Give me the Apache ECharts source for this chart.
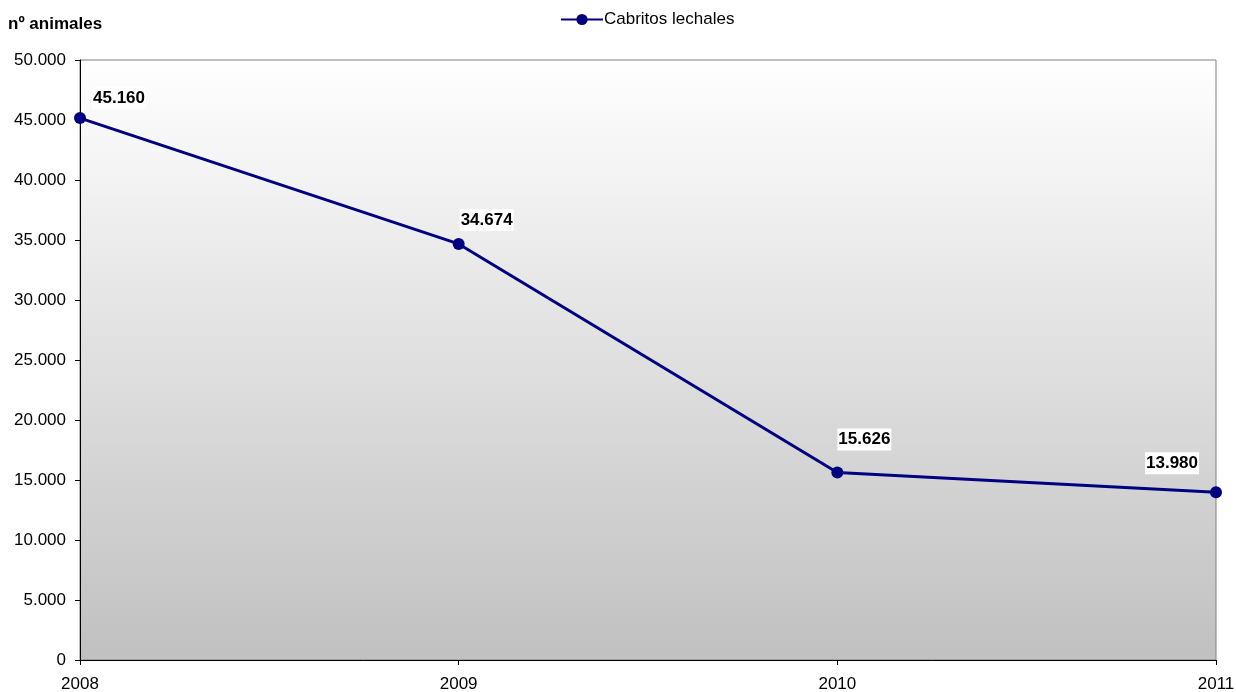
<!DOCTYPE html>
<html>
<head>
<meta charset="utf-8">
<script src="https://cdn.jsdelivr.net/npm/echarts@6/dist/echarts.min.js"></script>
<style>html,body{margin:0;padding:0;background:#fff}#c{width:1236px;height:692px}</style>
</head>
<body>
<div id="c"></div>
<script>
var categories = ['2008', '2009', '2010', '2011'];
var cabritosLechales = [45160, 34674, 15626, 13980];
var seriesName = 'Cabritos lechales';
var yAxisTitle = 'nº animales';
var yTicks = [0, 5000, 10000, 15000, 20000, 25000, 30000, 35000, 40000, 45000, 50000];

var labelOffsets = [[39, -20], [28, -24], [27, -33], [-44, -29]];

function fmt(v) {
  return String(v).replace(/\B(?=(\d{3})+(?!\d))/g, '.');
}

var chart = echarts.init(document.getElementById('c'));
var font = 'Liberation Sans, Arial, sans-serif';
chart.setOption({
  animation: false,
  textStyle: { fontFamily: font },
  legend: {
    top: 6, left: 555,
    itemWidth: 42, itemHeight: 14, itemGap: 10,
    textStyle: { fontSize: 17, color: '#000', fontFamily: font, padding: [0, 0, 0, -4] },
    data: [seriesName]
  },
  graphic: [{
    type: 'text', left: 8, top: 16,
    style: { text: yAxisTitle, fontSize: 17, fontWeight: 'bold', fill: '#000', fontFamily: font }
  }],
  grid: {
    left: 80, right: 20, top: 60, bottom: 32,
    outerBoundsMode: 'none',
    containLabel: false,
    show: true, borderColor: '#808080', borderWidth: 1,
    backgroundColor: new echarts.graphic.LinearGradient(0, 0, 0, 1, [
      { offset: 0, color: '#ffffff' },
      { offset: 1, color: '#c0c0c0' }
    ])
  },
  xAxis: {
    type: 'category',
    data: categories,
    boundaryGap: false,
    axisLine: { lineStyle: { color: '#000', width: 1 } },
    axisTick: { show: true, length: 5, lineStyle: { color: '#000' } },
    axisLabel: { fontSize: 17, color: '#000', margin: 16, fontFamily: font },
    splitLine: { show: false }
  },
  yAxis: {
    type: 'value',
    min: yTicks[0], max: yTicks[yTicks.length - 1], interval: 5000,
    axisLine: { show: true, lineStyle: { color: '#000', width: 1 } },
    axisTick: { show: true, length: 5, lineStyle: { color: '#000' } },
    axisLabel: { fontSize: 17, color: '#000', margin: 14, formatter: function (v) { return fmt(v); }, fontFamily: font },
    splitLine: { show: false }
  },
  series: [{
    name: seriesName,
    type: 'line',
    data: cabritosLechales.map(function (v, i) {
      return {
        value: v,
        label: { offset: labelOffsets[i] }
      };
    }),
    symbol: 'circle',
    symbolSize: 12,
    lineStyle: { color: '#000080', width: 3 },
    itemStyle: { color: '#000080' },
    label: {
      show: true,
      position: 'inside',
      formatter: function (p) { return fmt(p.value); },
      fontSize: 17, fontWeight: 'bold', color: '#000',
      backgroundColor: '#fff', padding: [3, 1, 2, 1],
      fontFamily: font
    },
    z: 5
  }]
});
</script>
</body>
</html>
